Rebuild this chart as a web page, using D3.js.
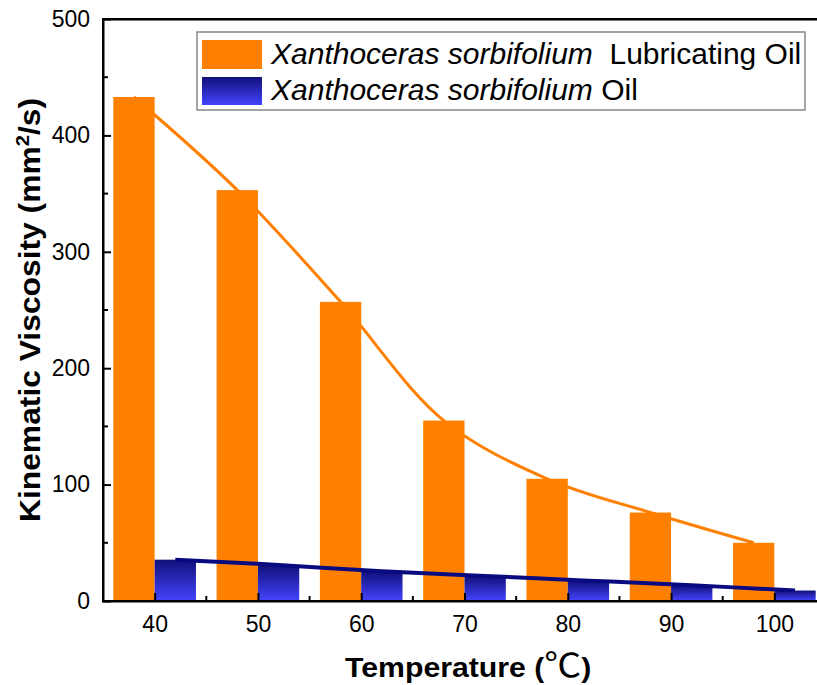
<!DOCTYPE html>
<html>
<head>
<meta charset="utf-8">
<script src="https://cdn.jsdelivr.net/npm/d3@7"></script>
<style>
  body { margin: 0; background: #fff; }
  svg { display: block; font-family: "Liberation Sans", Arial, sans-serif; }
</style>
</head>
<body>
<svg id="chart" width="817" height="685"></svg>
<script>
// Temperatures (°C) and kinematic viscosity (mm²/s)
const temperatures = [40, 50, 60, 70, 80, 90, 100];
const lubricatingOil = [433, 353, 257, 155, 105, 76, 50];
const seedOil = [35.5, 31, 25.5, 21.5, 17.5, 13.5, 9];
const yTicks = [0, 100, 200, 300, 400, 500];
const xTicks = [40, 50, 60, 70, 80, 90, 100];

const svg = d3.select("#chart");
const plot = { left: 103, top: 19, bottom: 601, right: 826 };

const x = d3.scaleLinear().domain([35, 105]).range([plot.left, plot.right]);
const y = d3.scaleLinear().domain([0, 500]).range([plot.bottom, plot.top]);
const barW = x(44) - x(40);

const orange = "#ff8000";

// Gradient for the seed-oil bars: dark navy at top to bright blue at bottom
const defs = svg.append("defs");
const grad = defs.append("linearGradient")
  .attr("id", "blueGrad").attr("x1", 0).attr("y1", 0).attr("x2", 0).attr("y2", 1);
grad.append("stop").attr("offset", "0%").attr("stop-color", "#10107a");
grad.append("stop").attr("offset", "100%").attr("stop-color", "#4444ff");

// Lubricating oil bars (left of each tick)
svg.append("g").selectAll("rect")
  .data(temperatures.map((t, i) => ({ t, v: lubricatingOil[i] })))
  .join("rect")
  .attr("x", d => x(d.t) - barW)
  .attr("y", d => y(d.v))
  .attr("width", barW)
  .attr("height", d => y(0) - y(d.v))
  .attr("fill", orange);

// Seed oil bars (right of each tick)
svg.append("g").selectAll("rect")
  .data(temperatures.map((t, i) => ({ t, v: seedOil[i] })))
  .join("rect")
  .attr("x", d => x(d.t))
  .attr("y", d => y(d.v))
  .attr("width", barW)
  .attr("height", d => y(0) - y(d.v))
  .attr("fill", "url(#blueGrad)");

// Trend lines through bar centres
const lineOrange = d3.line()
  .x(d => x(d.t) - barW / 2).y(d => y(d.v))
  .curve(d3.curveCatmullRom);
svg.append("path")
  .datum(temperatures.map((t, i) => ({ t, v: lubricatingOil[i] })))
  .attr("d", lineOrange)
  .attr("fill", "none").attr("stroke", orange).attr("stroke-width", 3);

const lineBlue = d3.line()
  .x(d => x(d.t) + barW / 2).y(d => y(d.v))
  .curve(d3.curveCatmullRom);
svg.append("path")
  .datum(temperatures.map((t, i) => ({ t, v: seedOil[i] })))
  .attr("d", lineBlue)
  .attr("fill", "none").attr("stroke", "#0a0a80").attr("stroke-width", 4);

// Axes
const xAxis = svg.append("g").attr("transform", `translate(0,${plot.bottom})`)
  .call(d3.axisBottom(x).tickValues(xTicks).tickSizeInner(-8).tickSizeOuter(0).tickPadding(15).tickFormat(d3.format("d")));
xAxis.select(".domain").remove();
xAxis.selectAll(".tick line").attr("stroke", "#000").attr("stroke-width", 2);
xAxis.selectAll("text").attr("font-size", 23).attr("fill", "#000");
// minor x ticks
svg.append("g").selectAll("line")
  .data(d3.range(45, 105, 10))
  .join("line")
  .attr("x1", d => x(d)).attr("x2", d => x(d))
  .attr("y1", plot.bottom).attr("y2", plot.bottom - 5)
  .attr("stroke", "#000").attr("stroke-width", 2);

const yAxis = svg.append("g").attr("transform", `translate(${plot.left},0)`)
  .call(d3.axisLeft(y).tickValues(yTicks).tickSizeInner(-8).tickSizeOuter(0).tickPadding(13));
yAxis.select(".domain").remove();
yAxis.selectAll(".tick line").attr("stroke", "#000").attr("stroke-width", 2);
yAxis.selectAll("text").attr("font-size", 23).attr("fill", "#000");
// minor y ticks
svg.append("g").selectAll("line")
  .data(d3.range(50, 500, 100))
  .join("line")
  .attr("x1", plot.left).attr("x2", plot.left + 5)
  .attr("y1", d => y(d)).attr("y2", d => y(d))
  .attr("stroke", "#000").attr("stroke-width", 2);

// Frame: left, bottom and top edges as solid bands
const frame = svg.append("g").attr("fill", "#000");
frame.append("rect").attr("x", plot.left - 1).attr("y", plot.top - 1).attr("width", 2.5).attr("height", plot.bottom - plot.top + 2);
frame.append("rect").attr("x", plot.left - 1).attr("y", plot.bottom - 1).attr("width", plot.right - plot.left + 1).attr("height", 2.5);
frame.append("rect").attr("x", plot.left - 1).attr("y", plot.top - 1).attr("width", plot.right - plot.left + 1).attr("height", 2.5);

// Axis titles
const xt = svg.append("text")
  .attr("transform", "translate(345,677) scale(1.12,1)")
  .attr("font-size", 27).attr("font-weight", "bold").attr("fill", "#000");
xt.append("tspan").text("Temperature (");
xt.append("tspan").attr("font-weight", "normal").attr("font-size", 33)
  .attr("font-family", "'Noto Sans CJK SC', 'DejaVu Sans', sans-serif").text("℃");
xt.append("tspan").text(")");

const yt = svg.append("text")
  .attr("transform", `translate(40,310) rotate(-90) scale(1.06,1)`)
  .attr("text-anchor", "middle")
  .attr("font-size", 30).attr("font-weight", "bold").attr("fill", "#000");
yt.append("tspan").text("Kinematic Viscosity (mm");
yt.append("tspan").attr("font-size", 19).attr("dy", -11).text("2");
yt.append("tspan").attr("dy", 11).text("/s)");

// Legend
const lg = svg.append("g");
lg.append("rect")
  .attr("x", 197).attr("y", 32).attr("width", 608).attr("height", 78)
  .attr("fill", "#fff").attr("stroke", "#888").attr("stroke-width", 1.5);
lg.append("rect").attr("x", 202).attr("y", 40).attr("width", 60).attr("height", 29).attr("fill", orange);
lg.append("rect").attr("x", 202).attr("y", 77).attr("width", 60).attr("height", 28).attr("fill", "url(#blueGrad)");

const t1 = lg.append("text").attr("x", 271).attr("y", 64).attr("font-size", 30).attr("fill", "#000");
t1.append("tspan").attr("font-style", "italic").text("Xanthoceras sorbifolium");
t1.append("tspan").attr("xml:space", "preserve").text("  Lubricating Oil");
const t2 = lg.append("text").attr("x", 271).attr("y", 100).attr("font-size", 30).attr("fill", "#000");
t2.append("tspan").attr("font-style", "italic").text("Xanthoceras sorbifolium");
t2.append("tspan").text(" Oil");
</script>
</body>
</html>
